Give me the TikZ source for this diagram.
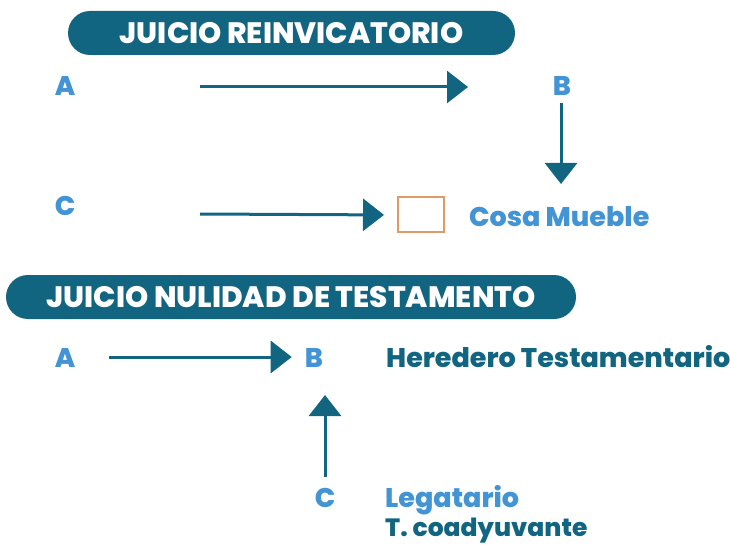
\documentclass[tikz,border=0pt]{standalone}
\usepackage{fontspec}
\setmainfont{Poppins}[BoldFont = {Poppins ExtraBold}]
\usetikzlibrary{arrows.meta,positioning}
\definecolor{tealdark}{HTML}{126580}
\definecolor{lightblue}{HTML}{4394D4}
\definecolor{boxorange}{HTML}{DF9A66}
\tikzset{
    pill/.style = {fill = tealdark, rounded corners = 22pt, minimum height = 44pt, text = white, font = \bfseries\fontsize{29.5}{29.5}\selectfont},
    letter/.style = {text = lightblue, anchor = base, inner sep = 0pt, font = \bfseries\fontsize{27}{27}\selectfont},
    label/.style = {anchor = base west, inner sep = 0pt, font = \bfseries\fontsize{27}{27}\selectfont},
    arr/.style = {draw = tealdark, line width = 3pt, -{Triangle[length = 21pt, width = 32pt]}}
}
\begin{document}
        \begin{tikzpicture}[x = 1pt, y = -1pt]
            \useasboundingbox (0,0) rectangle (730,545);
            % juicio reinvicatorio
            \node[pill, minimum width = 447pt] (pill1) at (291.5,33) {JUICIO REINVICATORIO};
            \node[letter] (a1) at (65,96) {A};
            \node[letter] (b1) at (562,96) {B};
            \node[letter] (c1) at (65,216) {C};
            \node[draw = boxorange, line width = 2pt, minimum width = 46pt, minimum height = 35pt] (box) at (421,215) {};
            \node[label, text = lightblue] (cosa) at (469,227) {Cosa Mueble};
            \coordinate (a1end) at (200,87);
            \coordinate (c1end) at (200,214);
            \coordinate (b1down) at (561,184);
            \draw[arr] (a1end) -- (468,87);
            \draw[arr] (b1.south) ++(-1,7) -- (b1down);
            \draw[arr, shorten >= 13pt] (c1end) -- (box.west);
            % juicio nulidad de testamento
            \node[pill, minimum width = 570pt] (pill2) at (291,297) {JUICIO NULIDAD DE TESTAMENTO};
            \node[letter] (a2) at (65,367) {A};
            \node[letter] (b2) at (314,367) {B};
            \node[letter] (c2) at (325,507) {C};
            \node[label, text = tealdark] (heredero) at (386,367) {Heredero Testamentario};
            \node[label, text = lightblue] (legatario) at (385,507) {Legatario};
            \node[label, text = tealdark, font = \bfseries\fontsize{25}{25}\selectfont] (coady) at (385,536) {T. coadyuvante};
            \coordinate (c2up) at (325,395);
            \draw[arr, shorten <= 34pt, shorten >= 13pt] (a2.east |- 0,357) -- (b2.west |- 0,357);
            \draw[arr] (c2.north) ++(0,-11) -- (c2up);
        \end{tikzpicture}
\end{document}
